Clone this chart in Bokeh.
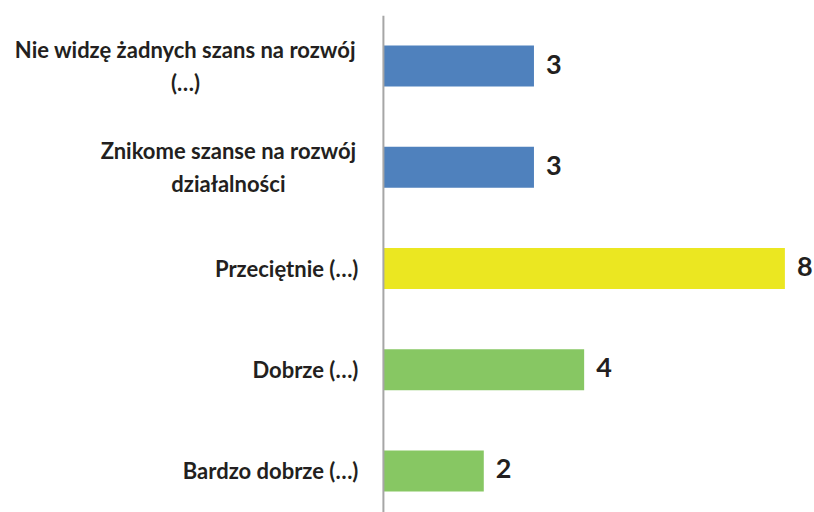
from bokeh.plotting import figure
from bokeh.models import ColumnDataSource, Range1d, Span
from bokeh.core.properties import value
from bokeh.embed import file_html
from bokeh.resources import INLINE

# data
categories = ["Nie widzę żadnych szans na rozwój\n(…)",
              "Znikome szanse na rozwój\ndziałalności",
              "Przeciętnie (…)",
              "Dobrze (…)",
              "Bardzo dobrze (…)"]
values = [3, 3, 8, 4, 2]
colors = ["#4F81BD", "#4F81BD", "#EBE721", "#87C763", "#87C763"]

# layout / style
pos = list(range(len(categories)))
label_offsets = [-198, -155, -25, -25, -25]   # px from axis (center for 2-line, right edge for 1-line)
label_aligns = ["center", "center", "right", "right", "right"]
text_color = "#231F20"

src = ColumnDataSource(dict(y=pos, v=values, c=colors, cat=categories,
                            vl=[str(v) for v in values],
                            xo=label_offsets, al=label_aligns, zero=[0] * len(pos)))

p = figure(width=814, height=512, output_backend="svg", toolbar_location=None,
           x_range=Range1d(-7.63, 8.59), y_range=Range1d(4.41, -0.5),
           min_border_left=0, min_border_right=0, min_border_top=15, min_border_bottom=0,
           x_axis_location=None, y_axis_location=None)
p.outline_line_color = None
p.grid.visible = False
p.background_fill_color = "white"
p.border_fill_color = "white"

p.hbar(y="y", left=0, right="v", height=0.405, fill_color="c", line_color=None, source=src)

p.add_layout(Span(location=0, dimension="height", line_color="#A6A6A6", line_width=2))

p.text(x="v", y="y", text="vl", x_offset=12, y_offset=-2, text_baseline="middle", text_align="left",
       text_font=value("Lato"), text_font_style="bold", text_font_size="27px",
       text_color=text_color, source=src)

p.text(x="zero", y="y", text="cat", x_offset="xo", text_align="al", text_baseline="middle",
       text_font=value("Lato"), text_font_style="bold", text_font_size="22px",
       text_line_height=1.22, text_color=text_color, source=src)

open("out.html", "w").write(file_html(p, INLINE))
